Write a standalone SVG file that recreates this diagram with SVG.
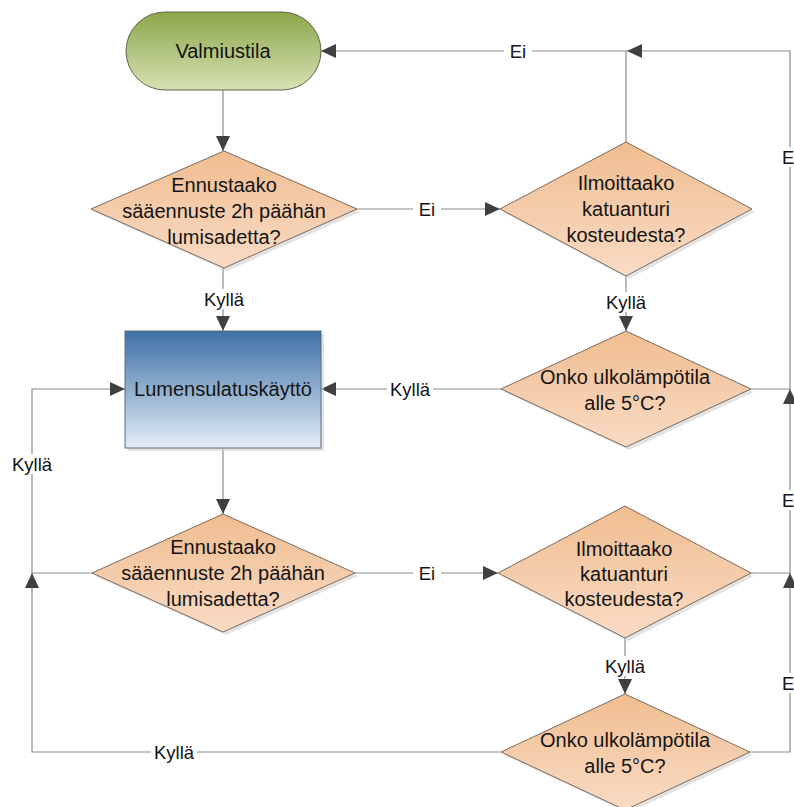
<svg xmlns="http://www.w3.org/2000/svg" width="794" height="807" viewBox="0 0 794 807">
<style>
text{font-family:"Liberation Sans",Arial,sans-serif;fill:#141414;dominant-baseline:central;text-anchor:middle}
.nt{font-size:20px}
.lb{font-size:18.5px}
.ln{fill:none;stroke:#8c8c8c;stroke-width:1.2}
.arr{marker-end:url(#ah)}
.dia{fill:url(#gPeach);stroke:#7a6a5c;stroke-width:1}
.sh{fill:#d0d0d0;opacity:0.6}
.bg{fill:#ffffff}
</style>
<defs>
<linearGradient id="gPeach" x1="0" y1="0" x2="0" y2="1">
<stop offset="0" stop-color="#f0bd90"/>
<stop offset="1" stop-color="#f9dbc5"/>
</linearGradient>
<linearGradient id="gGreen" x1="0" y1="0" x2="0" y2="1">
<stop offset="0" stop-color="#8ca64a"/>
<stop offset="1" stop-color="#d6e2b4"/>
</linearGradient>
<linearGradient id="gBlue" x1="0" y1="0" x2="0" y2="1">
<stop offset="0" stop-color="#3d70a6"/>
<stop offset="1" stop-color="#e4edf7"/>
</linearGradient>
<marker id="ah" markerUnits="userSpaceOnUse" markerWidth="16" markerHeight="14" refX="15" refY="7" orient="auto">
<path d="M0,0 L15,7 L0,14 Z" fill="#404040"/>
</marker>
</defs>
<rect width="794" height="807" fill="#ffffff"/>

<g id="connectors">
<path class="ln arr" d="M223,90 L223,151"/>
<path class="ln arr" d="M223,268 L223,331"/>
<path class="ln arr" d="M357,209 L500,209"/>
<path class="ln arr" d="M626,276 L626,331"/>
<path class="ln arr" d="M626,142 L626,51 L321,51"/>
<path class="ln arr" d="M751,389 L790,389 L790,51 L627,51"/>
<path class="ln arr" d="M501,389 L321,389"/>
<path class="ln arr" d="M223,448 L223,514"/>
<path class="ln arr" d="M355,573 L498,573"/>
<path class="ln arr" d="M92,573 L32,573 L32,389 L125,389"/>
<path class="ln arr" d="M625,638 L625,694"/>
<path class="ln arr" d="M751,573 L790,573 L790,389"/>
<path class="ln arr" d="M750,752 L790,752 L790,573"/>
<path class="ln arr" d="M501,752 L32,752 L32,573"/>
<g id="labels">
<rect class="bg" x="504" y="41" width="28" height="20"/><text class="lb" x="518" y="51">Ei</text>
<rect class="bg" x="413" y="199" width="28" height="20"/><text class="lb" x="427" y="209">Ei</text>
<rect class="bg" x="201" y="289" width="46" height="20"/><text class="lb" x="224" y="299">Kyllä</text>
<rect class="bg" x="603" y="292" width="46" height="20"/><text class="lb" x="626" y="302">Kyllä</text>
<rect class="bg" x="387" y="379" width="46" height="20"/><text class="lb" x="410" y="389">Kyllä</text>
<rect class="bg" x="9" y="454" width="46" height="20"/><text class="lb" x="32" y="464">Kyllä</text>
<rect class="bg" x="413" y="563" width="28" height="20"/><text class="lb" x="427" y="573">Ei</text>
<rect class="bg" x="602" y="656" width="46" height="20"/><text class="lb" x="625" y="666">Kyllä</text>
<rect class="bg" x="151" y="742" width="46" height="20"/><text class="lb" x="174" y="752">Kyllä</text>
<rect class="bg" x="781" y="147" width="13" height="20"/><text class="lb" x="782" y="157" style="text-anchor:start">E</text>
<rect class="bg" x="781" y="490" width="13" height="20"/><text class="lb" x="782" y="500" style="text-anchor:start">E</text>
<rect class="bg" x="781" y="673" width="13" height="20"/><text class="lb" x="782" y="683" style="text-anchor:start">E</text>
</g>
</g>

<g id="valmiustila">
<rect x="126" y="12" width="195" height="78" rx="39" ry="39" fill="url(#gGreen)" stroke="#5c6648" stroke-width="1"/>
<text class="nt" x="223" y="51">Valmiustila</text>
</g>

<g id="d1">
<polygon class="sh" points="227,154 360,212 227,271 94,212"/>
<polygon class="dia" points="224,151 357,209 224,268 91,209"/>
<text class="nt" x="224" y="185">Ennustaako</text>
<text class="nt" x="224" y="211">sääennuste 2h päähän</text>
<text class="nt" x="224" y="237">lumisadetta?</text>
</g>

<g id="d2">
<polygon class="sh" points="629,145 755,212 629,279 503,212"/>
<polygon class="dia" points="626,142 752,209 626,276 500,209"/>
<text class="nt" x="626" y="183">Ilmoittaako</text>
<text class="nt" x="626" y="209">katuanturi</text>
<text class="nt" x="626" y="235">kosteudesta?</text>
</g>

<g id="lumensulatus">
<rect x="128" y="334" width="196" height="117" fill="#d0d0d0" opacity="0.6"/>
<rect x="125" y="331" width="196" height="117" fill="url(#gBlue)" stroke="#5f6b78" stroke-width="1"/>
<text class="nt" x="223" y="389">Lumensulatuskäyttö</text>
</g>

<g id="d3">
<polygon class="sh" points="629,334 754,392 629,450 504,392"/>
<polygon class="dia" points="626,331 751,389 626,447 501,389"/>
<text class="nt" x="625" y="377">Onko ulkolämpötila</text>
<text class="nt" x="625" y="403">alle 5°C?</text>
</g>

<g id="d4">
<polygon class="sh" points="226,517 358,576 226,635 95,576"/>
<polygon class="dia" points="223,514 355,573 223,632 92,573"/>
<text class="nt" x="223" y="547">Ennustaako</text>
<text class="nt" x="223" y="573">sääennuste 2h päähän</text>
<text class="nt" x="223" y="599">lumisadetta?</text>
</g>

<g id="d5">
<polygon class="sh" points="628,509 754,576 628,641 501,576"/>
<polygon class="dia" points="625,506 751,573 625,638 498,573"/>
<text class="nt" x="624" y="549">Ilmoittaako</text>
<text class="nt" x="624" y="574">katuanturi</text>
<text class="nt" x="624" y="599">kosteudesta?</text>
</g>

<g id="d6">
<polygon class="sh" points="628,697 753,755 628,813 504,755"/>
<polygon class="dia" points="625,694 750,752 625,810 501,752"/>
<text class="nt" x="625" y="740">Onko ulkolämpötila</text>
<text class="nt" x="625" y="766">alle 5°C?</text>
</g>
</svg>
